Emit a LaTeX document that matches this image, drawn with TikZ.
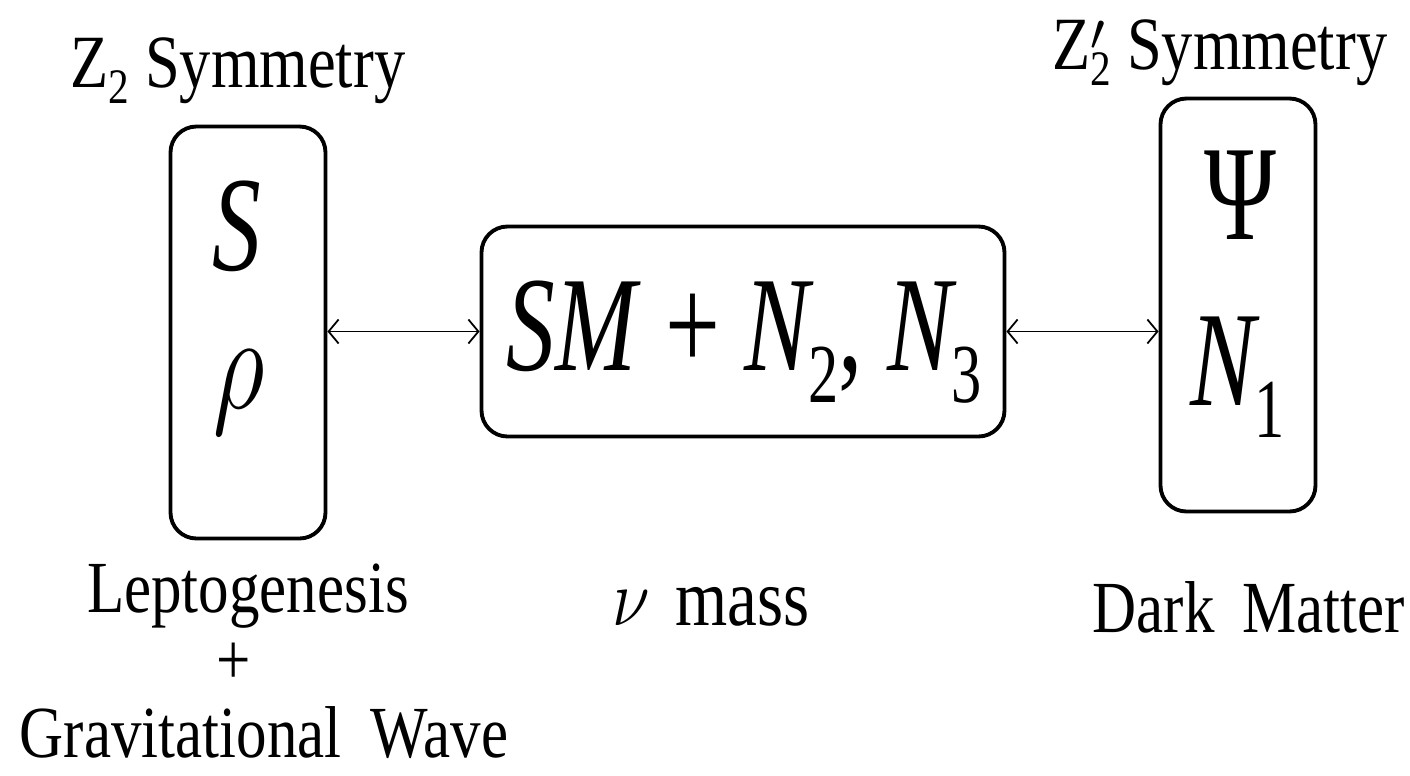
\RequirePackage{fix-cm}
\documentclass[tikz,border=0pt]{standalone}
\usepackage{fontspec}
\usepackage{graphicx}
\setmainfont[FakeStretch=0.83]{Liberation Serif}
\newfontfamily\symfont[FakeStretch=0.72]{Liberation Serif}
\usetikzlibrary{positioning,arrows.meta}
\newcommand{\lsub}[1]{\raisebox{-0.22em}{\scalebox{0.66}{#1}}}
\newcommand{\msub}[1]{\kern-0.04em\raisebox{-0.24em}{\scalebox{0.62}{#1}}}
\tikzset{
  link/.style={{Straight Barb[length=1mm,width=2.4mm]}-{Straight Barb[length=1mm,width=2.4mm]}, line width=0.5pt},
  fieldbox/.style={draw, rounded corners=0.26cm, line width=1.1pt, minimum width=1.55cm, minimum height=4.12cm},
  corebox/.style={draw, rounded corners=0.26cm, line width=1.1pt, minimum width=5.23cm, minimum height=2.10cm},
  fieldtxt/.style={font=\symfont\fontsize{38.5}{44}\selectfont, inner sep=0pt, anchor=base},
  caption/.style={font=\fontsize{20.9}{25}\selectfont, inner sep=0pt, anchor=base},
  symlabel/.style={caption, font=\fontsize{21.4}{25}\selectfont}
}
\begin{document}
\begin{tikzpicture}
      \useasboundingbox (0,0) rectangle (14.10,-7.76);
      \node[fieldbox] (l) at (2.48,-3.325) {};
      \node[corebox] (c) at (7.43,-3.315) {};
      \node[fieldbox, minimum height=4.13cm] (r) at (12.38,-3.05) {};
      \node[fieldtxt] (s) at (2.37,-2.70) {\textit{S}};
      \node[fieldtxt] (rho) at (2.39,-4.08) {\scalebox{0.75}[1]{$\rho$}};
      \node[fieldtxt] (psi) at (12.40,-2.39) {Ψ};
      \node[fieldtxt] (n1) at (12.38,-4.05) {\textit{N}\msub{1}};
      \node[fieldtxt] (sm) at (7.44,-3.70) {\textit{SM}~+~\textit{N}\msub{2}, \textit{N}\msub{3}};
      \draw[link] (l.east |- c.west) -- (c.west);
      \draw[link] (c.east) -- (c.east -| r.west);
      \node[symlabel] (zl) at (2.38,-0.87) {Z\lsub{2} Symmetry};
      \node[symlabel] (zr) at (12.20,-0.69) {Z\rlap{\raisebox{-0.12em}{$^{\prime}$}}\lsub{2} Symmetry};
      \node[caption] (lep) at (2.48,-6.12) {Leptogenesis};
      \node[caption] (plus) at (2.34,-6.84) {+};
      \node[caption] (gw) at (2.64,-7.57) {Gravitational\hspace{0.4em}Wave};
      \node[caption, font=\fontsize{23}{27}\selectfont] (nu) at (7.11,-6.25) {\scalebox{0.85}[1]{$\nu$}\hspace{0.32em}mass};
      \node[caption] (dm) at (12.49,-6.32) {Dark\hspace{0.38em}Matter};
    \end{tikzpicture}
\end{document}
